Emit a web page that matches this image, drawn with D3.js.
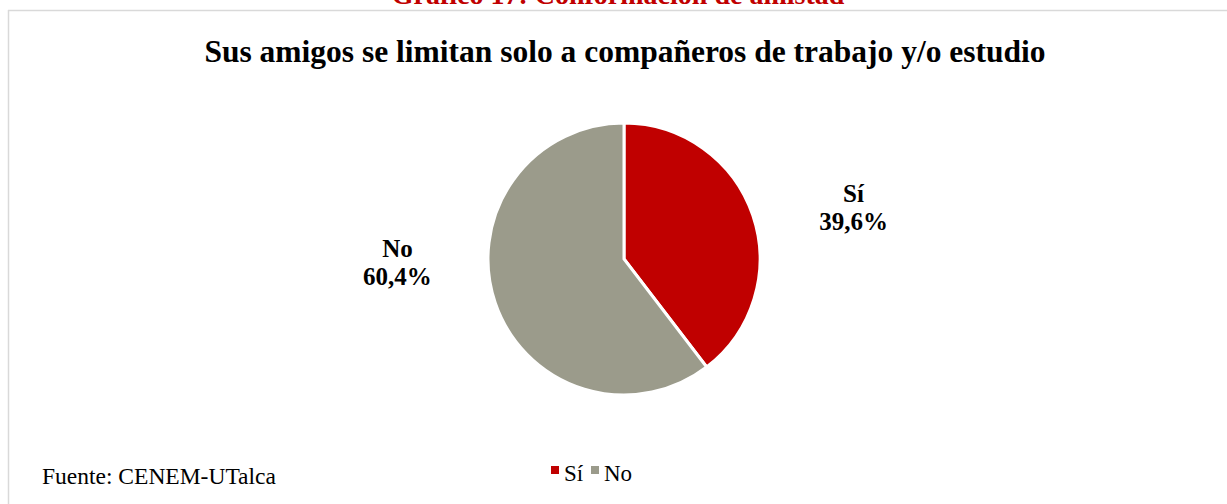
<!DOCTYPE html>
<html>
<head>
<meta charset="utf-8">
<script src="https://cdn.jsdelivr.net/npm/d3@7"></script>
<style>
  body { margin: 0; background: #fff; }
  svg { display: block; font-family: "Liberation Serif", "DejaVu Serif", serif; }
</style>
</head>
<body>
<div class="chart-container"></div>
<script>
// Data
const categories = ["Sí", "No"];
const values = [39.6, 60.4];
const colors = ["#C00000", "#9B9B8B"];

const width = 1227, height = 504;
const svg = d3.select(".chart-container").append("svg")
  .attr("width", width).attr("height", height);

// chart frame
svg.append("line").attr("x1", 8).attr("x2", width).attr("y1", 10.5).attr("y2", 10.5)
  .attr("stroke", "#d9d9d9").attr("stroke-width", 1.5);
svg.append("line").attr("x1", 8.5).attr("x2", 8.5).attr("y1", 10).attr("y2", height)
  .attr("stroke", "#d9d9d9").attr("stroke-width", 1.5);

// cut-off caption above frame
svg.append("text")
  .attr("x", 618).attr("y", 4)
  .attr("text-anchor", "middle")
  .attr("font-weight", "bold").attr("font-size", 28)
  .attr("fill", "#C00000")
  .text("Gráfico 17: Conformación de amistad");

// title
svg.append("text")
  .attr("x", 625).attr("y", 62)
  .attr("text-anchor", "middle")
  .attr("font-weight", "bold").attr("font-size", 31.5)
  .attr("fill", "#000")
  .text("Sus amigos se limitan solo a compañeros de trabajo y/o estudio");

// pie
const cx = 624, cy = 259, r = 136;
const pie = d3.pie().sort(null).value(d => d.v);
const arc = d3.arc().innerRadius(0).outerRadius(r);
const data = categories.map((c, i) => ({ c, v: values[i], col: colors[i] }));
const arcs = pie(data);

const g = svg.append("g").attr("transform", `translate(${cx},${cy})`);
g.selectAll("path")
  .data(arcs)
  .enter().append("path")
  .attr("d", arc)
  .attr("fill", d => d.data.col)
  .attr("stroke", "#fff")
  .attr("stroke-width", 3);

// labels (best-fit style nudges from the outer centroid)
const labelArc = d3.arc().innerRadius(r * 1.72).outerRadius(r * 1.72);
const nudge = [[8, 23], [-5, -72]];
const fmt = v => v.toFixed(1).replace(".", ",") + "%";
const lbl = g.selectAll(".lbl")
  .data(arcs)
  .enter().append("text")
  .attr("class", "lbl")
  .attr("text-anchor", "middle")
  .attr("font-weight", "bold").attr("font-size", 25)
  .attr("transform", (d, i) => {
    const p = labelArc.centroid(d);
    return `translate(${p[0] + nudge[i][0]},${p[1] + nudge[i][1]})`;
  });
lbl.append("tspan").attr("x", 0).attr("dy", "-0.2em").text(d => d.data.c);
lbl.append("tspan").attr("x", 0).attr("dy", "1.12em").text(d => fmt(d.data.v));

// source
svg.append("text")
  .attr("x", 42).attr("y", 484)
  .attr("font-size", 23.5)
  .text("Fuente: CENEM-UTalca");

// legend
const legendX = [551, 591];
const leg = svg.selectAll(".leg")
  .data(data)
  .enter().append("g")
  .attr("class", "leg")
  .attr("transform", (d, i) => `translate(${legendX[i]},0)`);
leg.append("rect").attr("x", 0).attr("y", 466).attr("width", 8).attr("height", 8)
  .attr("fill", d => d.col);
leg.append("text").attr("x", 13).attr("y", 481).attr("font-size", 23)
  .text(d => d.c);
</script>
</body>
</html>
